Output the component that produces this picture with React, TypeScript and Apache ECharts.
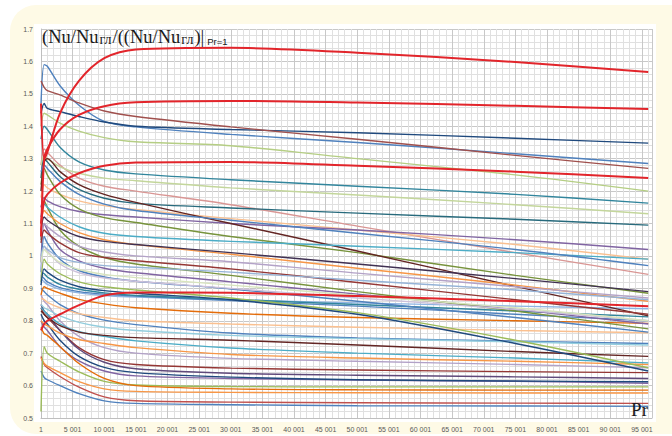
import React, { useEffect, useRef } from "react";
import * as echarts from "echarts";

// Pr sample points (x axis)
const PR = [1, 501, 1001, 3001, 6001, 10001, 15001, 30001, 50001, 75001, 96001];

// Axis ticks
const X_MIN = 0;
const X_MAX = 96600;
const X_STEP = 5000;
const Y_MIN = 0.5;
const Y_MAX = 1.7;
const Y_STEP = 0.1;

// ---- red curves ----
const red1 = [1.47, 1.30, 1.32, 1.44, 1.54, 1.61, 1.637, 1.642, 1.627, 1.598, 1.567];
const red2 = [1.06, 1.30, 1.33, 1.39, 1.435, 1.462, 1.474, 1.478, 1.473, 1.463, 1.453];
const red3 = [1.10, 1.17, 1.19, 1.225, 1.255, 1.278, 1.288, 1.29, 1.278, 1.26, 1.24];
const red4 = [0.77, 0.79, 0.80, 0.82, 0.848, 0.878, 0.887, 0.886, 0.876, 0.86, 0.845];

// ---- upper curves ----
const u1 = [1.47, 1.59, 1.585, 1.525, 1.465, 1.415, 1.398, 1.375, 1.35, 1.315, 1.285];
const u2 = [1.44, 1.47, 1.455, 1.445, 1.43, 1.413, 1.40, 1.39, 1.38, 1.363, 1.348];
const u3 = [1.54, 1.52, 1.51, 1.497, 1.472, 1.447, 1.43, 1.398, 1.36, 1.31, 1.27];
const u4 = [1.40, 1.44, 1.435, 1.41, 1.385, 1.365, 1.352, 1.34, 1.30, 1.25, 1.20];
const u5 = [1.36, 1.40, 1.39, 1.335, 1.29, 1.265, 1.253, 1.235, 1.215, 1.19, 1.163];
const u6 = [1.28, 1.33, 1.32, 1.28, 1.24, 1.215, 1.20, 1.158, 1.092, 1.01, 0.943];
const u7 = [1.28, 1.31, 1.30, 1.275, 1.255, 1.24, 1.232, 1.21, 1.188, 1.158, 1.13];
const u8 = [1.24, 1.30, 1.29, 1.245, 1.205, 1.178, 1.162, 1.148, 1.132, 1.113, 1.095];
const u9 = [1.18, 1.22, 1.21, 1.19, 1.17, 1.155, 1.143, 1.115, 1.08, 1.035, 0.99];
const u10 = [1.15, 1.18, 1.17, 1.152, 1.137, 1.127, 1.12, 1.10, 1.08, 1.05, 1.02];
const u11 = [1.22, 1.27, 1.25, 1.19, 1.145, 1.118, 1.103, 1.06, 1.01, 0.94, 0.885];
const u12 = [1.20, 1.29, 1.30, 1.26, 1.22, 1.19, 1.165, 1.10, 1.015, 0.906, 0.815];
const u13 = [1.10, 1.14, 1.13, 1.10, 1.072, 1.05, 1.035, 1.005, 0.962, 0.91, 0.86];
const u14 = [1.05, 1.10, 1.09, 1.06, 1.03, 1.012, 1.0, 0.982, 0.947, 0.905, 0.87];
const u15 = [1.04, 1.08, 1.07, 1.04, 1.01, 0.995, 0.985, 0.96, 0.918, 0.865, 0.82];
const u16 = [1.00, 1.03, 1.02, 0.995, 0.98, 0.97, 0.965, 0.95, 0.925, 0.895, 0.865];
const u17 = [0.98, 1.02, 1.01, 0.98, 0.958, 0.943, 0.933, 0.91, 0.878, 0.84, 0.80];
const u18 = [1.12, 1.16, 1.15, 1.12, 1.09, 1.07, 1.06, 1.045, 1.03, 1.01, 0.99];
const u19 = [1.26, 1.28, 1.27, 1.23, 1.19, 1.16, 1.14, 1.11, 1.07, 1.02, 0.97];
const u20 = [1.08, 1.12, 1.11, 1.085, 1.06, 1.045, 1.035, 1.01, 0.975, 0.93, 0.89];

// ---- middle curves (sharp peak, fast decay) ----
const m1 = [0.98, 1.10, 1.08, 1.02, 0.985, 0.962, 0.948, 0.92, 0.882, 0.835, 0.79];
const m2 = [1.05, 1.17, 1.15, 1.08, 1.03, 0.995, 0.975, 0.94, 0.89, 0.83, 0.775];
const m3 = [0.95, 1.06, 1.04, 0.99, 0.955, 0.935, 0.922, 0.898, 0.86, 0.81, 0.765];
const m4 = [0.93, 1.03, 1.015, 0.975, 0.948, 0.932, 0.922, 0.90, 0.87, 0.835, 0.80];
const m5 = [0.92, 0.99, 0.975, 0.945, 0.92, 0.905, 0.895, 0.87, 0.825, 0.74, 0.655];
const m6 = [0.91, 0.96, 0.95, 0.925, 0.905, 0.893, 0.885, 0.865, 0.82, 0.73, 0.645];

// ---- lower curves ----
const l1 = [0.645, 0.625, 0.618, 0.60, 0.575, 0.553, 0.545, 0.541, 0.538, 0.537, 0.536];
const l2 = [0.69, 0.665, 0.655, 0.628, 0.595, 0.565, 0.553, 0.549, 0.547, 0.546, 0.545];
const l3 = [0.685, 0.668, 0.66, 0.64, 0.612, 0.59, 0.582, 0.579, 0.578, 0.577, 0.577];
const l4 = [0.52, 0.72, 0.70, 0.675, 0.642, 0.613, 0.602, 0.597, 0.596, 0.596, 0.596];
const l5 = [0.80, 0.78, 0.77, 0.72, 0.676, 0.645, 0.63, 0.622, 0.617, 0.613, 0.607];
const l6 = [0.82, 0.80, 0.79, 0.74, 0.69, 0.656, 0.64, 0.626, 0.618, 0.614, 0.612];
const l7 = [0.78, 0.76, 0.755, 0.72, 0.668, 0.622, 0.60, 0.59, 0.587, 0.586, 0.586];
const l8 = [0.84, 0.82, 0.81, 0.77, 0.717, 0.68, 0.665, 0.654, 0.648, 0.643, 0.64];
const l9 = [0.85, 0.83, 0.82, 0.77, 0.712, 0.672, 0.652, 0.638, 0.632, 0.627, 0.622];
const l10 = [0.88, 0.86, 0.85, 0.80, 0.752, 0.717, 0.70, 0.684, 0.675, 0.665, 0.655];
const l11 = [0.80, 0.79, 0.785, 0.762, 0.742, 0.73, 0.717, 0.696, 0.685, 0.675, 0.665];
const l12 = [0.84, 0.83, 0.82, 0.79, 0.766, 0.752, 0.738, 0.716, 0.70, 0.685, 0.67];
const l13 = [0.90, 0.89, 0.88, 0.85, 0.822, 0.802, 0.788, 0.762, 0.747, 0.737, 0.73];
const l14 = [0.87, 0.865, 0.857, 0.84, 0.822, 0.81, 0.80, 0.79, 0.78, 0.77, 0.763];
const l15 = [0.88, 0.905, 0.90, 0.885, 0.866, 0.852, 0.84, 0.823, 0.81, 0.80, 0.792];
const l16 = [0.93, 0.92, 0.912, 0.897, 0.886, 0.878, 0.873, 0.865, 0.855, 0.845, 0.837];
const l17 = [0.94, 0.93, 0.92, 0.902, 0.89, 0.882, 0.876, 0.862, 0.845, 0.82, 0.80];
const l18 = [0.95, 0.945, 0.935, 0.912, 0.897, 0.886, 0.878, 0.866, 0.85, 0.83, 0.812];
const l19 = [0.85, 0.84, 0.835, 0.815, 0.795, 0.78, 0.77, 0.755, 0.745, 0.735, 0.725];
const l20 = [0.83, 0.82, 0.81, 0.785, 0.765, 0.755, 0.748, 0.74, 0.725, 0.705, 0.69];

// styles (colour per curve), kept apart from the values
const CURVES: [number[], string][] = [
  [l1, "#4F81BD"], [l2, "#C0504D"], [l3, "#F79646"], [l4, "#9BBB59"], [l5, "#8064A2"],
  [l6, "#1F497D"], [l7, "#E46C0A"], [l8, "#943634"], [l9, "#5F497A"], [l10, "#B2A1C7"],
  [l11, "#F79646"], [l12, "#4BACC6"], [l13, "#4F81BD"], [l14, "#FAC090"], [l15, "#E46C0A"],
  [l16, "#8EB4E3"], [l17, "#4F81BD"], [l18, "#31859C"], [l19, "#93CDDD"], [l20, "#632523"],
  [m1, "#8064A2"], [m2, "#77933C"], [m3, "#4F81BD"], [m4, "#CCC0DA"], [m5, "#9BBB59"], [m6, "#1F497D"],
  [u1, "#4F81BD"], [u2, "#1F497D"], [u3, "#A0504D"], [u4, "#B5CE84"], [u5, "#31859C"],
  [u6, "#D99694"], [u7, "#C3D69B"], [u8, "#276A7C"], [u9, "#FAC090"], [u10, "#8064A2"],
  [u11, "#77933C"], [u12, "#632523"], [u13, "#F79646"], [u14, "#B3A2C7"], [u15, "#953735"],
  [u16, "#95B3D7"], [u17, "#D7E4BD"], [u18, "#4BACC6"], [u19, "#4F81BD"], [u20, "#403152"],
];
const REDS = [red1, red2, red3, red4];

function fmtPr(v: number): string {
  const n = Math.round(v) + 1;
  if (n < 1000) return String(n);
  const th = Math.floor(n / 1000);
  const rest = String(n % 1000).padStart(3, "0");
  return th + " " + rest;
}

export default function App() {
  const ref = useRef<HTMLDivElement>(null);
  useEffect(() => {
    if (!ref.current) return;
    const chart = echarts.init(ref.current, undefined, { renderer: "svg" });
    const mk = (vals: number[]) => PR.map((p, i) => [p, vals[i]]);
    const series: any[] = [];
    CURVES.forEach(([vals, color], i) => {
      series.push({
        name: "s" + i,
        type: "line",
        data: mk(vals),
        showSymbol: false,
        symbol: "none",
        smooth: 0.3,
        lineStyle: { color, width: 1.4 },
        emphasis: { disabled: true },
        z: 3,
      });
    });
    REDS.forEach((vals, i) => {
      series.push({
        name: "r" + i,
        type: "line",
        data: mk(vals),
        showSymbol: false,
        symbol: "none",
        smooth: 0.3,
        lineStyle: { color: "#E2252B", width: 2 },
        emphasis: { disabled: true },
        z: 4,
      });
    });
    const option: any = {
      animation: false,
      backgroundColor: "#ffffff",
      grid: { left: 41, right: 20, top: 29, bottom: 18, containLabel: false },
      xAxis: {
        type: "value",
        min: X_MIN,
        max: X_MAX,
        interval: X_STEP,
        axisLine: { show: true, lineStyle: { color: "#bfbfbf", width: 1 } },
        axisTick: { show: false },
        axisLabel: {
          formatter: fmtPr,
          showMaxLabel: false,
          color: "#595959",
          fontSize: 7,
          fontFamily: "Liberation Sans",
          margin: 8,
        },
        splitLine: { show: true, lineStyle: { color: "#c8c8c8", width: 1 } },
        minorTick: { show: false, splitNumber: 5 },
        minorSplitLine: { show: true, lineStyle: { color: "#e0e0e0", width: 1 } },
      },
      yAxis: {
        type: "value",
        min: Y_MIN,
        max: Y_MAX,
        interval: Y_STEP,
        axisLine: { show: true, lineStyle: { color: "#bfbfbf", width: 1 } },
        axisTick: { show: false },
        axisLabel: {
          formatter: (v: number) => String(Math.round(v * 10) / 10),
          color: "#595959",
          fontSize: 7,
          fontFamily: "Liberation Sans",
          margin: 8,
        },
        splitLine: { show: true, lineStyle: { color: "#c8c8c8", width: 1 } },
        minorTick: { show: false, splitNumber: 5 },
        minorSplitLine: { show: true, lineStyle: { color: "#e0e0e0", width: 1 } },
      },
      graphic: [
        {
          type: "rect",
          z: -20,
          silent: true,
          shape: { x: 10, y: 5, width: 700, height: 429, r: 26 },
          style: { fill: "#FEFAE6" },
        },
        {
          type: "rect",
          z: -19,
          silent: true,
          shape: { x: 34, y: 24, width: 622, height: 398 },
          style: { fill: "#ffffff" },
        },
        {
          type: "text",
          z: 100,
          left: 42,
          top: 27,
          silent: true,
          style: {
            text: "{a|(Nu/Nu}{b|гл}{a|/((Nu/Nu}{b|гл}{a|)|}{c|Pr=1}",
            rich: {
              a: { fontFamily: "Liberation Serif", fontSize: 18.5, fill: "#1a1a1a", verticalAlign: "bottom", lineHeight: 22 },
              b: { fontFamily: "Liberation Serif", fontSize: 14, fill: "#1a1a1a", verticalAlign: "bottom", lineHeight: 21, padding: [0, 1, 0, 1] },
              c: { fontFamily: "Liberation Sans", fontSize: 9.5, fill: "#1a1a1a", verticalAlign: "bottom", lineHeight: 19, padding: [0, 0, 0, 3] },
            },
          },
        },
        {
          type: "text",
          z: 100,
          silent: true,
          x: 648,
          y: 419,
          style: {
            text: "Pr",
            fontFamily: "Liberation Serif",
            fontSize: 19,
            fill: "#1a1a1a",
            align: "right",
            verticalAlign: "bottom",
          },
        },
      ],
      series,
    };
    chart.setOption(option);
    return () => chart.dispose();
  }, []);
  return (
    <div
      ref={ref}
      style={{ position: "fixed", left: 0, top: 0, width: 672, height: 436 }}
    />
  );
}
